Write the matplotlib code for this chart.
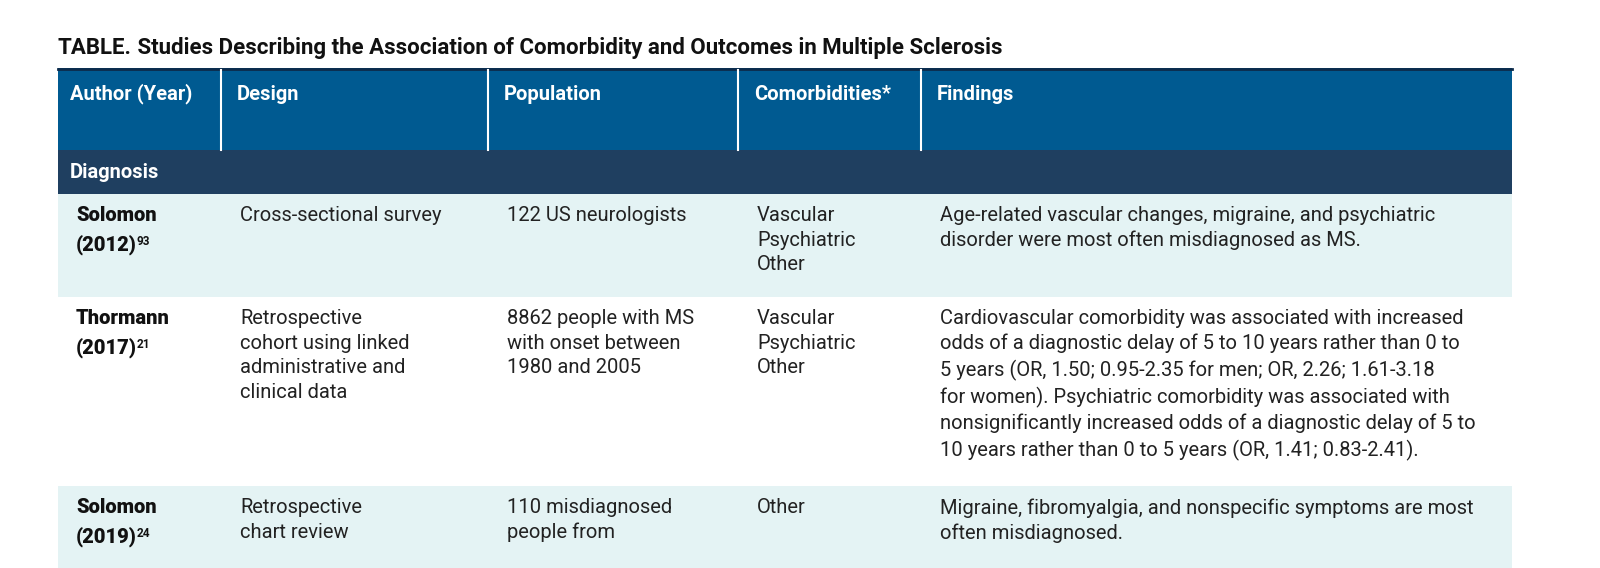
import matplotlib
matplotlib.use("Agg")
import matplotlib.pyplot as plt
from matplotlib.patches import Rectangle

title_bold = "TABLE."
title_rest = " Studies Describing the Association of Comorbidity and Outcomes in Multiple Sclerosis"
headers = ["Author (Year)", "Design", "Population", "Comorbidities*", "Findings"]
section = "Diagnosis"
authors = [("Solomon", "(2012)", "93"), ("Thormann", "(2017)", "21"), ("Solomon", "(2019)", "24")]
designs = ["Cross-sectional survey",
           "Retrospective\ncohort using linked\nadministrative and\nclinical data",
           "Retrospective\nchart review"]
populations = ["122 US neurologists",
               "8862 people with MS\nwith onset between\n1980 and 2005",
               "110 misdiagnosed\npeople from"]
comorbidities = ["Vascular\nPsychiatric\nOther", "Vascular\nPsychiatric\nOther", "Other"]
findings = ["Age-related vascular changes, migraine, and psychiatric\ndisorder were most often misdiagnosed as MS.",
            "Cardiovascular comorbidity was associated with increased\nodds of a diagnostic delay of 5 to 10 years rather than 0 to\n5 years (OR, 1.50; 0.95-2.35 for men; OR, 2.26; 1.61-3.18\nfor women). Psychiatric comorbidity was associated with\nnonsignificantly increased odds of a diagnostic delay of 5 to\n10 years rather than 0 to 5 years (OR, 1.41; 0.83-2.41).",
            "Migraine, fibromyalgia, and nonspecific symptoms are most\noften misdiagnosed."]

fig = plt.figure(figsize=(16, 5.68), dpi=100)
ax = fig.add_axes([0, 0, 1, 1])
ax.set_xlim(0, 1600); ax.set_ylim(568, 0); ax.axis("off")

FONT = "Roboto"
FS = 14.5
LS = 1.38
L, R = 58, 1512
cols = [58, 221, 488, 738, 921, 1512]
pad = 16

t = ax.text(L, 48, title_bold, fontsize=16, fontweight="bold", family=FONT, va="center", color="#111")
ax.annotate(title_rest, xy=(1, 0.5), xycoords=t, va="center", fontsize=16, family=FONT,
            fontweight="semibold", color="#111")

ax.add_patch(Rectangle((L, 68), R - L, 82, color="#005a91", lw=0))
ax.plot([L, R], [68.5, 68.5], color="#0d2a4a", lw=2)
for x in cols[1:-1]:
    ax.plot([x, x], [70, 150], color="white", lw=1.5)
for i, h in enumerate(headers):
    ax.text(cols[i] + (12 if i == 0 else pad), 94, h, fontsize=FS, fontweight="bold", family=FONT,
            color="white", va="center")

ax.add_patch(Rectangle((L, 150), R - L, 44, color="#1f3f60", lw=0))
ax.text(L + 12, 173, section, fontsize=FS, fontweight="bold", family=FONT, color="white", va="center")

rows = [(194, 297, "#e4f3f4"), (297, 486, "white"), (486, 568, "#e4f3f4")]
for k, (y0, y1, c) in enumerate(rows):
    ax.add_patch(Rectangle((L, y0), R - L, y1 - y0, color=c, lw=0))
    ty = y0 + 12
    name, year, sup = authors[k]
    ax.text(cols[0] + 18, ty, name, fontsize=FS, fontweight="heavy", family=FONT, color="#111", va="top")
    ty2 = ax.text(cols[0] + 18, ty + 28, year, fontsize=FS, fontweight="heavy", family=FONT,
                  color="#111", va="top")
    ax.annotate(sup, xy=(1, 0.95), xycoords=ty2, fontsize=8.5, fontweight="bold", family=FONT,
                color="#111", va="top")
    for i, txt in enumerate([designs[k], populations[k], comorbidities[k], findings[k]]):
        ax.text(cols[i + 1] + 19, ty, txt, fontsize=FS, family=FONT, color="#222", va="top",
                linespacing=LS)

fig.savefig("out.png", dpi=100)
